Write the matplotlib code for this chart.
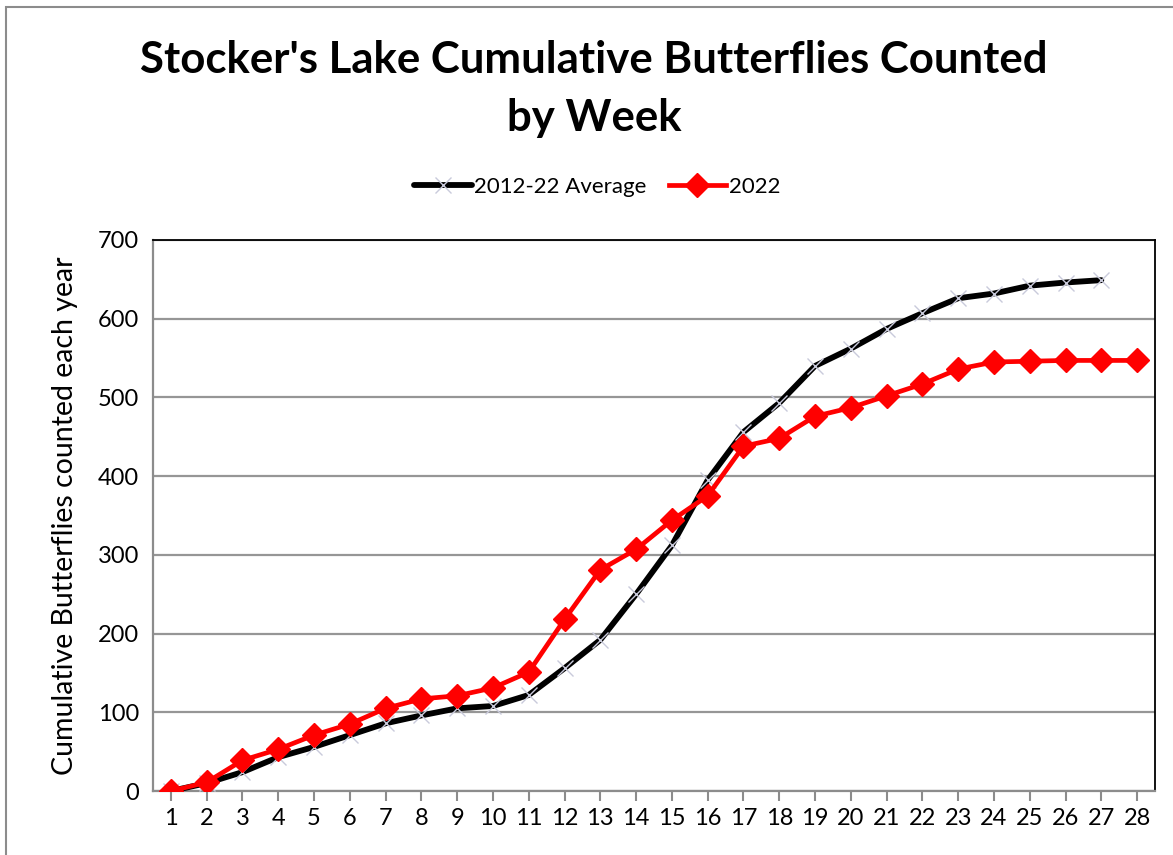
"""
Cumulative butterfly counts at Stocker's Lake, 2022 against the 2012-22 average.
"""
import matplotlib.pyplot as plt
from matplotlib.patches import Rectangle

plt.rcParams['font.family'] = ['Lato', 'DejaVu Sans']

weeks = list(range(1, 29))
average_weeks = list(range(1, 28))
average_counts = [0, 10, 24, 43, 56, 71, 86, 96, 105, 108, 122, 156, 192, 250,
                  312, 395, 456, 493, 540, 562, 587, 607, 626, 632, 642, 646, 649]
counts_2022 = [0, 11, 39, 53, 71, 85, 105, 117, 121, 131, 151, 218, 281, 307,
               344, 375, 438, 448, 476, 487, 502, 517, 536, 545, 546, 547, 547, 547]

fig = plt.figure(figsize=(11.73, 8.55), dpi=100)
fig.patches.append(Rectangle((6 / 1173, -0.05), 1.2, 1 - 7 / 855 + 0.05,
                             transform=fig.transFigure, fill=False,
                             edgecolor='#8c8c8c', linewidth=1.5))

ax = fig.add_axes([153 / 1173, 64 / 855, 1002 / 1173, 551 / 855])

ax.plot(average_weeks, average_counts, color='black', linewidth=4.2,
        marker='x', markersize=12, markeredgecolor='#c9cadb',
        markeredgewidth=1.0, solid_capstyle='round', label='2012-22 Average',
        zorder=3)
ax.plot(weeks, counts_2022, color='#ff0000', linewidth=3.4, marker='D',
        markersize=12, markeredgecolor='#ff0000', label='2022', zorder=4)

ax.set_xlim(0.5, 28.5)
ax.set_ylim(0, 700)
ax.set_xticks(weeks)
ax.set_yticks(range(0, 701, 100))
ax.tick_params(axis='x', labelsize=17, length=7, width=1.5, color='#8c8c8c',
               pad=5)
ax.tick_params(axis='y', labelsize=17, length=0, pad=10)
ax.grid(axis='y', color='#969696', linewidth=1.6)
ax.set_axisbelow(True)

for side in ['left', 'bottom']:
    ax.spines[side].set_color('#8c8c8c')
    ax.spines[side].set_linewidth(1.6)
for side in ['top', 'right']:
    ax.spines[side].set_color('black')
    ax.spines[side].set_linewidth(1.3)

ax.set_ylabel('Cumulative Butterflies counted each year', fontsize=20.5,
              labelpad=14)

fig.text(594 / 1173, 1 - 60 / 855, "Stocker's Lake Cumulative Butterflies Counted",
         ha='center', va='center', fontsize=31.5, fontweight='bold')
fig.text(594 / 1173, 1 - 118 / 855, "by Week",
         ha='center', va='center', fontsize=31.5, fontweight='bold')

fig.legend(loc='center', bbox_to_anchor=(597 / 1173, 1 - 187 / 855), ncol=2,
           frameon=False, fontsize=16, handlelength=2.6, columnspacing=1.0,
           handletextpad=0.1)

fig.savefig('out.png', dpi=100)
